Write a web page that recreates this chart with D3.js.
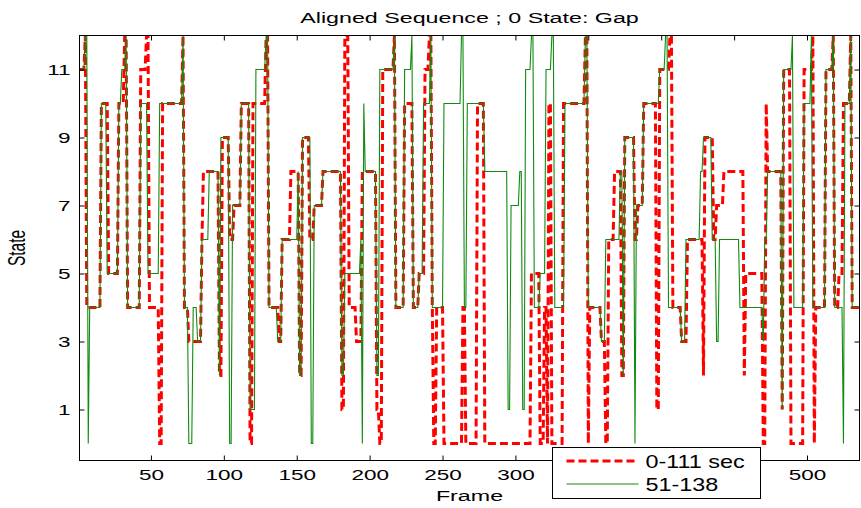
<!DOCTYPE html>
<html>
<head>
<meta charset="utf-8">
<script src="https://cdn.jsdelivr.net/npm/d3@7"></script>
<style>
  body { margin: 0; background: #fff; }
  text { font-family: "Liberation Sans", Arial, Helvetica, sans-serif; fill: #000; }
</style>
</head>
<body>
<svg id="chart" width="861" height="508"></svg>
<script>
// Titles and tick labels
const chartTitle = "Aligned Sequence ; 0 State: Gap";
const xLabel = "Frame";
const yLabel = "State";
const xTicks = [50, 100, 150, 200, 250, 300, 350, 400, 450, 500];
const yTicks = [1, 3, 5, 7, 9, 11];
const seriesNames = ["0-111 sec", "51-138"];
const firstFrame = 1;
const lastFrame = 536;

// State sequences as runs: [first frame of run, state]; each run lasts until the next one starts
const runsA = [
  [1,11],[5,12],[6,4],[16,10],[21,5],[28,10],[32,12],[34,4],[43,11],[47,12],[49,4],[56,0],
  [58,10],[72,12],[73,4],[76,3],[85,6],[86,8],[97,2],[99,9],[104,6],[107,7],[112,10],[118,0],
  [120,10],[129,12],[131,4],[138,3],[140,6],[146,8],[152,2],[154,9],[159,6],[162,7],[168,8],
  [181,1],[183,12],[186,4],[191,3],[195,8],[205,1],[207,0],[209,11],[217,12],[218,4],[224,10],
  [230,4],[234,5],[238,11],[241,12],[243,4],[244,0],[246,4],[251,0],[264,4],[266,0],[274,10],
  [279,0],[311,5],[317,0],[320,4],[322,0],[323,10],[325,0],[333,10],[348,12],[350,0],[351,4],
  [359,3],[362,0],[364,6],[368,8],[373,2],[375,9],[382,6],[384,7],[388,10],[397,1],[399,11],
  [406,12],[408,4],[414,3],[418,6],[429,2],[430,9],[436,6],[438,7],[443,8],[457,2],[458,5],
  [470,0],[472,10],[473,8],[483,1],[484,11],[489,0],[498,11],[504,12],[505,0],[506,4],[513,11],
  [518,12],[519,4],[522,5],[525,10],[530,12],[531,4]
];
const runsB = [
  [1,11],[5,12],[7,0],[8,4],[16,10],[20,5],[28,10],[30,11],[33,12],[34,4],[43,10],[48,5],
  [56,10],[72,12],[73,4],[76,0],[79,4],[82,3],[85,6],[90,8],[97,2],[98,9],[104,0],[106,7],
  [112,10],[118,1],[122,11],[129,12],[131,4],[137,3],[140,6],[151,8],[152,2],[154,9],[160,0],
  [162,7],[168,8],[181,2],[183,5],[194,6],[195,0],[196,10],[197,8],[205,2],[207,11],[217,12],
  [218,4],[224,11],[229,12],[230,4],[234,5],[237,10],[242,12],[243,4],[251,10],[263,12],[265,4],
  [267,10],[279,8],[295,1],[297,7],[303,8],[305,1],[307,11],[311,12],[313,4],[317,5],[321,11],
  [325,12],[327,4],[334,10],[348,12],[350,4],[359,3],[362,6],[372,8],[374,2],[375,9],[382,0],
  [383,7],[388,10],[399,11],[403,12],[405,4],[414,3],[417,6],[427,8],[429,9],[435,6],[438,3],
  [440,6],[454,4],[470,3],[471,6],[473,8],[483,1],[484,11],[490,12],[491,4],[498,10],[503,12],
  [504,4],[513,11],[518,12],[519,4],[525,0],[526,10],[530,12],[531,4]
];

// one point per frame from the runs
function framesFromRuns(runs) {
  const pts = [];
  runs.forEach((r, i) => {
    const end = i + 1 < runs.length ? runs[i + 1][0] - 1 : lastFrame;
    for (let f = r[0]; f <= end; f++) pts.push([f, r[1]]);
  });
  return pts;
}

const svg = d3.select("#chart");
const box = { left: 79.5, right: 859.5, top: 35.5, bottom: 460.5 };
const legendBox = { x: 552.5, y: 447.5, w: 208, h: 51 };
const sx = 1.5; // horizontal stretch of the figure's lettering

const x = d3.scaleLinear().domain([firstFrame, lastFrame]).range([box.left, box.right]);
const y = d3.scaleLinear().domain([-0.5, 12]).range([box.bottom, box.top]);

svg.append("rect").attr("width", 861).attr("height", 508).attr("fill", "#fff");

svg.append("defs").append("clipPath").attr("id", "plotClip")
  .append("rect")
  .attr("x", box.left).attr("y", box.top)
  .attr("width", box.right - box.left).attr("height", box.bottom - box.top);

// series
const line = d3.line().x(d => x(d[0])).y(d => y(d[1]));
const plot = svg.append("g").attr("clip-path", "url(#plotClip)");
plot.append("path")
  .datum(framesFromRuns(runsA))
  .attr("d", line)
  .attr("fill", "none")
  .attr("stroke", "#ff0000")
  .attr("stroke-width", 3)
  .attr("stroke-dasharray", "8,4")
  .attr("stroke-linejoin", "miter");
plot.append("path")
  .datum(framesFromRuns(runsB))
  .attr("d", line)
  .attr("fill", "none")
  .attr("stroke", "#108a10")
  .attr("stroke-width", 1.1);

// x labels sitting under the legend box stay hidden
const underLegend = v => x(v) > legendBox.x - 12 && x(v) < legendBox.x + legendBox.w + 12;

// axes (ticks point inward on all four sides)
const gx = svg.append("g").attr("transform", `translate(0,${box.bottom})`)
  .call(d3.axisBottom(x).tickValues(xTicks).tickSize(-5).tickPadding(9)
    .tickFormat(v => underLegend(v) ? "" : d3.format("d")(v)));
const gy = svg.append("g").attr("transform", `translate(${box.left},0)`)
  .call(d3.axisLeft(y).tickValues(yTicks).tickSize(-5).tickPadding(9).tickFormat(d3.format("d")));
const gxTop = svg.append("g").attr("transform", `translate(0,${box.top})`)
  .call(d3.axisTop(x).tickValues(xTicks).tickSize(-5).tickFormat(""));
const gyRight = svg.append("g").attr("transform", `translate(${box.right},0)`)
  .call(d3.axisRight(y).tickValues(yTicks).tickSize(-5).tickFormat(""));

[gx, gy, gxTop, gyRight].forEach(g => {
  g.select(".domain").remove();
  g.selectAll(".tick line").attr("stroke", "#000");
});
gx.selectAll("text").attr("font-size", 15).attr("font-family", null)
  .attr("transform", `scale(${sx},1)`);
gy.selectAll("text").attr("font-size", 15).attr("font-family", null)
  .attr("x", -9 / sx).attr("transform", `scale(${sx},1)`);

svg.append("rect")
  .attr("x", box.left).attr("y", box.top)
  .attr("width", box.right - box.left).attr("height", box.bottom - box.top)
  .attr("fill", "none").attr("stroke", "#000").attr("stroke-width", 1);

// title and axis labels
svg.append("text")
  .attr("transform", `translate(${(box.left + box.right) / 2},23) scale(${sx},1)`)
  .attr("text-anchor", "middle").attr("font-size", 15.5)
  .text(chartTitle);
svg.append("text")
  .attr("transform", `translate(${(box.left + box.right) / 2},501) scale(${sx},1)`)
  .attr("text-anchor", "middle").attr("font-size", 15.5)
  .text(xLabel);
svg.append("text")
  .attr("transform", `translate(25,248) rotate(-90) scale(1,${sx})`)
  .attr("text-anchor", "middle").attr("font-size", 15.5)
  .text(yLabel);

// legend
const lg = svg.append("g").attr("transform", `translate(${legendBox.x},${legendBox.y})`);
lg.append("rect").attr("width", legendBox.w).attr("height", legendBox.h)
  .attr("fill", "#fff").attr("stroke", "#000").attr("stroke-width", 1);
const legendRows = [
  { name: seriesNames[0], color: "#ff0000", width: 3, dash: "8,4", y: 13.5 },
  { name: seriesNames[1], color: "#108a10", width: 1.1, dash: null, y: 36.5 }
];
legendRows.forEach(r => {
  lg.append("line").attr("x1", 14).attr("x2", 86).attr("y1", r.y).attr("y2", r.y)
    .attr("stroke", r.color).attr("stroke-width", r.width)
    .attr("stroke-dasharray", r.dash);
  lg.append("text")
    .attr("transform", `translate(93,${r.y + 7}) scale(1.3,1)`)
    .attr("font-size", 18)
    .text(r.name);
});
</script>
</body>
</html>
